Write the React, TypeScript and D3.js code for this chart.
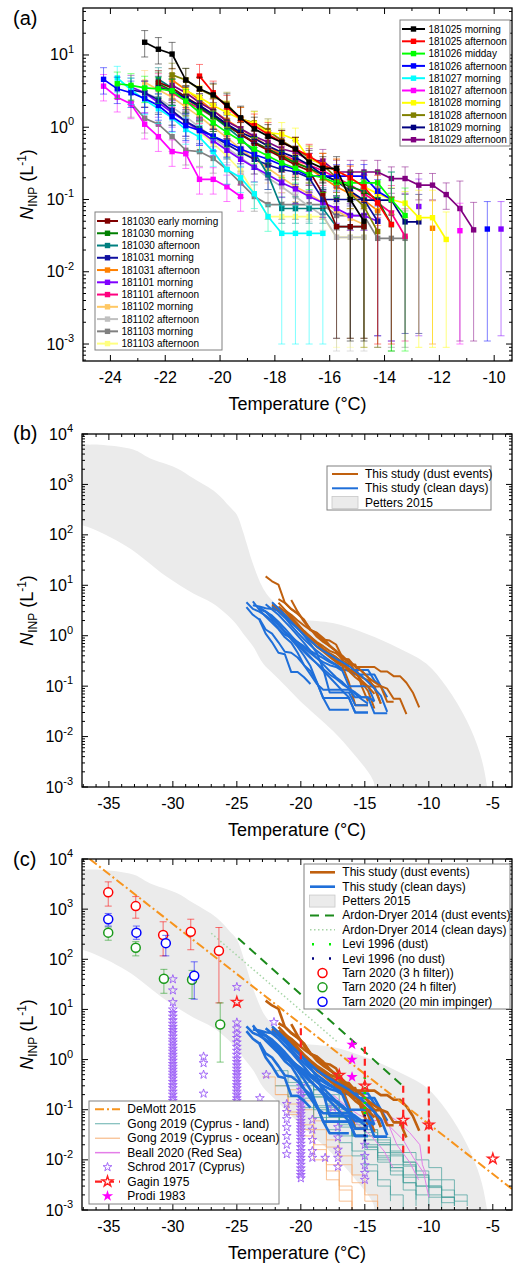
import React from 'react';
import * as d3 from 'd3';

const W = 513;
const H = 1266;
const FONT = 'Arial, "Liberation Sans", Helvetica, sans-serif';
const BROWN = '#c0600e';
const BLUE = '#1f6fd9';

// freezing temperatures of the droplet assay (°C)
const TEMPS = [-24.25, -23.75, -23.25, -22.75, -22.25, -21.75, -21.25, -20.75, -20.25, -19.75,
  -19.25, -18.75, -18.25, -17.75, -17.25, -16.75, -16.25, -15.75, -15.25, -14.75,
  -14.25, -13.75, -13.25, -12.75, -12.25, -11.75, -11.25, -10.75, -10.25, -9.75];

type Run = { name: string; color: string; dust: boolean; start: number; n: (number | null)[]; open: number[]; floor: number };

// N_INP (L-1) per sample, from `start` on the TEMPS grid
const RUNS: Run[] = [
  { name: '181025 morning', color: '#000000', dust: true, start: -22.75, n: [15, 12, 10.3, 4.5, 3.4, 2.8, 2.0, 1.35, 0.95, 0.75, 0.62, 0.5, 0.33, 0.27, 0.27, 0.1, 0.05], open: [-15.25, -14.75], floor: 0.0011 },
  { name: '181025 afternoon', color: '#ff0000', dust: true, start: -20.75, n: [5.1, 3.0, 1.9, 1.3, 1.05, 0.8, 0.62, 0.5, 0.4, 0.3, 0.25, 0.2, 0.15, 0.09, 0.045], open: [-14.25, -13.75], floor: 0.001 },
  { name: '181026 midday', color: '#00ff00', dust: false, start: -23.75, n: [4.0, 3.8, 3.5, 3.4, 3.2, 2.3, 1.6, 1.15, 0.85, 0.65, 0.5, 0.4, 0.32, 0.27, 0.22, 0.2, 0.17, 0.17, 0.17, 0.17, 0.1, 0.06], open: [-13.75, -13.25], floor: 0.0008 },
  { name: '181026 afternoon', color: '#0000ff', dust: false, start: -24.25, n: [4.6, 3.4, 3.0, 2.5, 2.0, 1.4, 1.05, 0.9, 0.75, 0.62, 0.5, 0.42, 0.36, 0.3, 0.26, 0.21, 0.21, 0.21, 0.21, 0.21, 0.13, 0.1, null, null, null, null, null, null, 0.039], open: [-13.75, -10.25], floor: 0.0011 },
  { name: '181027 morning', color: '#00ffff', dust: false, start: -23.75, n: [4.8, 3.3, 2.4, 1.8, 1.35, 0.93, 0.73, 0.46, 0.26, 0.2, 0.12, 0.058, 0.034, 0.034, 0.034, 0.034], open: [-17.75, -17.25, -16.75, -16.25], floor: 0.001 },
  { name: '181027 afternoon', color: '#ff00ff', dust: false, start: -24.25, n: [3.7, 2.6, 2.1, 1.1, 0.74, 0.46, 0.43, 0.19, 0.19, 0.15, 0.11, null, null, null, null, null, null, null, null, null, null, null, null, null, null, null, 0.037], open: [-11.25], floor: 0.001 },
  { name: '181028 morning', color: '#ffff00', dust: true, start: -21.25, n: [3.2, 2.6, 2.0, 1.6, 1.3, 1.13, 0.84, 0.8, 0.67, 0.37, 0.3, 0.25, 0.2, 0.15, 0.12, 0.1, 0.089, 0.056, 0.056, 0.028], open: [-12.75, -12.25, -11.75], floor: 0.0009 },
  { name: '181028 afternoon', color: '#808000', dust: true, start: -21.75, n: [5.3, 4.5, 3.35, 2.7, 2.1, 1.3, 1.15, 0.9, 0.65, 0.5, 0.38, 0.3, 0.2, 0.12, 0.08, 0.036], open: [-14.75, -14.25], floor: 0.0009 },
  { name: '181029 morning', color: '#000080', dust: true, start: -22.25, n: [3.5, 3.2, 2.5, 2.0, 1.5, 1.1, 0.85, 0.7, 0.55, 0.45, 0.38, 0.3, 0.22, 0.18, 0.13, 0.098, 0.098, 0.098, 0.049, 0.049], open: [-13.25, -12.75], floor: 0.0014 },
  { name: '181029 afternoon', color: '#800080', dust: true, start: -21.75, n: [3.8, 3.0, 2.2, 1.7, 1.2, 0.95, 0.75, 0.62, 0.5, 0.45, 0.35, 0.34, 0.24, 0.24, 0.24, 0.24, 0.195, 0.195, 0.158, 0.158, 0.117, 0.075, 0.038], open: [-11.25, -10.75], floor: 0.0011 },
  { name: '181030 early morning', color: '#800000', dust: true, start: -22.25, n: [4.2, 3.5, 2.6, 2.0, 1.5, 1.1, 0.8, 0.6, 0.48, 0.38, 0.3, 0.25, 0.12, 0.042, 0.042, 0.042], open: [-15.75, -15.25, -14.75], floor: 0.0012 },
  { name: '181030 morning', color: '#008000', dust: true, start: -22.25, n: [4.0, 3.2, 2.5, 1.9, 1.4, 1.05, 0.8, 0.62, 0.5, 0.4, 0.32, 0.27, 0.22, 0.18, 0.15, 0.13, 0.1, 0.045], open: [-13.75], floor: 0.0008 },
  { name: '181030 afternoon', color: '#008080', dust: false, start: -22.25, n: [4.6, 3.5, 2.6, 1.9, 1.4, 1.0, 0.7, 0.45, 0.22, 0.075, 0.075, 0.075, 0.075, 0.042, 0.042, 0.042], open: [-15.75, -15.25, -14.75], floor: 0.0012 },
  { name: '181031 morning', color: '#1010a0', dust: false, start: -23.25, n: [3.3, 3.0, 2.4, 1.7, 1.2, 0.95, 0.75, 0.58, 0.45, 0.36, 0.3, 0.26, 0.24, 0.2, 0.1, 0.1, 0.1, 0.1, 0.05], open: [-14.25], floor: 0.0013 },
  { name: '181031 afternoon', color: '#ff8000', dust: true, start: -21.75, n: [4.5, 3.3, 2.4, 1.7, 1.25, 0.95, 0.72, 0.55, 0.42, 0.33, 0.27, 0.2, 0.15, 0.12, 0.098, 0.07, null, null, null, 0.04], open: [-12.25], floor: 0.001 },
  { name: '181101 morning', color: '#8000ff', dust: false, start: -23.25, n: [3.6, 3.0, 2.2, 1.6, 1.2, 0.9, 0.65, 0.48, 0.36, 0.28, 0.22, 0.17, 0.14, 0.11, 0.09, 0.075, 0.06, 0.06, 0.05, null, null, 0.08, null, null, null, null, null, 0.039], open: [-14.25, -12.75, -9.75], floor: 0.0013 },
  { name: '181101 afternoon', color: '#ff0080', dust: false, start: -22.25, n: [3.8, 3.0, 2.3, 1.8, 1.4, 1.05, 0.8, 0.62, 0.5, 0.42, 0.35, 0.3, 0.25, 0.2, 0.16, 0.12, 0.09, 0.065, 0.031], open: [-13.75, -13.25], floor: 0.0011 },
  { name: '181102 morning', color: '#ffc864', dust: false, start: -22.75, n: [4.2, 3.3, 2.6, 1.9, 1.4, 1.0, 0.72, 0.5, 0.36, 0.27, 0.2, 0.15, 0.12, 0.09, 0.07, 0.055, 0.045], open: [-15.25, -14.75], floor: 0.0012 },
  { name: '181102 afternoon', color: '#c0c0c0', dust: false, start: -22.75, n: [3.0, 2.5, 1.9, 1.4, 1.0, 0.72, 0.52, 0.38, 0.28, 0.2, 0.15, 0.11, 0.08, 0.06, 0.03, 0.03, 0.03], open: [-15.75, -15.25, -14.75], floor: 0.0008 },
  { name: '181103 morning', color: '#808080', dust: false, start: -23.25, n: [2.2, 1.33, 1.1, 0.74, 0.48, 0.46, 0.37, 0.26, 0.17, 0.11, 0.085, 0.085, 0.085, 0.085, 0.085, 0.06, 0.06, 0.06, 0.029, 0.029, 0.029], open: [-14.25, -13.75, -13.25], floor: 0.0009 },
  { name: '181103 afternoon', color: '#ffff80', dust: false, start: -23.25, n: [3.6, 3.0, 2.4, 1.7, 1.2, 0.85, 0.6, 0.4, 0.25, 0.12, 0.058, 0.058, 0.058, 0.058, 0.058, 0.03, 0.03, 0.03], open: [-15.75, -15.25, -14.75], floor: 0.0009 },
];

// error bar factors
const ERR_UP = 1.45;
const ERR_DN = 1.6;
const OPEN_UP = 2.4;

// Petters 2015 envelope (T, N)
const PETTERS_UPPER: [number, number][] = [[-38, 6300], [-36.7, 6160], [-35.7, 6100], [-33.1, 4900], [-31.8, 3300], [-29.7, 2100], [-28.4, 1320], [-26.6, 680], [-25.55, 360], [-25.0, 250], [-24.56, 125], [-24.24, 68], [-23.85, 32], [-23.46, 17], [-23.07, 10], [-22.7, 6.9], [-22.03, 4.4], [-21.4, 2.75], [-20.6, 2.2], [-19.8, 2.05], [-17.5, 1.78], [-14.9, 1.1], [-12.3, 0.56], [-10.2, 0.28], [-8.6, 0.095], [-7.05, 0.021], [-6.0, 0.0046], [-5.5, 0.0012], [-5.4, 0.0005]];
const PETTERS_LOWER: [number, number][] = [[-38, 170], [-36.7, 145], [-33.6, 59], [-30.5, 15], [-28.4, 6.9], [-26.9, 4.4], [-25.3, 2.0], [-24.5, 1.1], [-23.7, 0.6], [-22.95, 0.28], [-22.2, 0.18], [-21.1, 0.095], [-20.1, 0.052], [-17.5, 0.013], [-15.9, 0.0046], [-14.35, 0.00135], [-14.0, 0.0005]];

const DEMOTT: [number, number][] = [[-36.5, 10000], [-3.4, 0.0025]];
const ARDON_DUST: [number, number][] = [[-24.9, 263], [-12.1, 0.31]];
const ARDON_CLEAN: [number, number][] = [[-27, 330], [-17.1, 2.2]];
const LEVI_DUST = { t: -15, hi: 0.45, lo: 0.08 };
const LEVI_CLEAN = { t: -15, hi: 0.08, lo: 0.02 };

type Tarn = { t: number; n: number; lo: number; hi: number };
const TARN_3H: Tarn[] = [{ t: -35.05, n: 2160, lo: 1150, hi: 3500 }, { t: -32.9, n: 1150, lo: 660, hi: 1780 }, { t: -30.76, n: 305, lo: 117, hi: 560 }, { t: -28.6, n: 355, lo: 155, hi: 630 }, { t: -26.4, n: 148, lo: 13.5, hi: 430 }];
const TARN_24H: Tarn[] = [{ t: -35.05, n: 340, lo: 240, hi: 440 }, { t: -32.9, n: 170, lo: 117, hi: 225 }, { t: -30.7, n: 41, lo: 21, hi: 63 }, { t: -28.5, n: 39, lo: 16.5, hi: 60 }, { t: -26.3, n: 5.0, lo: 0.89, hi: 13.5 }];
const TARN_IMP: Tarn[] = [{ t: -35.05, n: 630, lo: 460, hi: 820 }, { t: -32.85, n: 340, lo: 250, hi: 460 }, { t: -30.55, n: 210, lo: 117, hi: 300 }, { t: -28.33, n: 47, lo: 16, hi: 89 }];

// Gong 2019 spectra on a 1 °C grid
const GONG_T = [-23, -22, -21, -20, -19, -18, -17, -16, -15, -14, -13, -12, -11, -10, -9, -8, -7];
const GONG_LAND = [
  { start: -22, n: [0.6, 0.35, 0.2, 0.11, 0.06, 0.03, 0.015, 0.008, 0.004, 0.002, 0.001] },
  { start: -21, n: [0.45, 0.3, 0.18, 0.1, 0.055, 0.032, 0.018, 0.01, 0.006, 0.0035, 0.002, 0.0012] },
  { start: -21, n: [0.3, 0.17, 0.1, 0.07, 0.045, 0.03, 0.02, 0.012, 0.008, 0.005, 0.003, 0.0018, 0.0011] },
  { start: -20, n: [0.5, 0.25, 0.12, 0.06, 0.03, 0.016, 0.009, 0.005, 0.0025, 0.0012] },
  { start: -20, n: [0.35, 0.2, 0.13, 0.08, 0.05, 0.03, 0.02, 0.013, 0.008, 0.005, 0.003, 0.0018, 0.0015, 0.0015] },
  { start: -19, n: [0.25, 0.15, 0.09, 0.055, 0.035, 0.022, 0.014, 0.009, 0.006, 0.004, 0.0025, 0.0015] },
  { start: -19, n: [0.18, 0.11, 0.07, 0.04, 0.025, 0.014, 0.007, 0.0035, 0.0016] },
  { start: -18, n: [0.2, 0.1, 0.06, 0.04, 0.028, 0.02, 0.014, 0.01, 0.007, 0.004, 0.002, 0.0012] },
  { start: -22, n: [0.3, 0.18, 0.11, 0.07, 0.04, 0.022, 0.012, 0.006, 0.003, 0.0015] },
  { start: -18, n: [0.12, 0.07, 0.045, 0.03, 0.02, 0.012, 0.0075, 0.0045, 0.0028, 0.0018, 0.0013] },
  { start: -20, n: [0.2, 0.12, 0.08, 0.05, 0.03, 0.018, 0.011, 0.007, 0.0045, 0.003, 0.002, 0.0014, 0.0012] },
  { start: -17, n: [0.09, 0.06, 0.04, 0.025, 0.015, 0.009, 0.005, 0.003, 0.0018, 0.0012] },
];
const GONG_OCEAN = [
  { start: -23, n: [0.45, 0.2, 0.08, 0.03, 0.01, 0.004, 0.0015, 0.0008] },
  { start: -22, n: [0.3, 0.13, 0.05, 0.02, 0.008, 0.003, 0.0012] },
  { start: -21, n: [0.25, 0.1, 0.04, 0.018, 0.008, 0.0035, 0.0015, 0.0008] },
  { start: -20, n: [0.15, 0.06, 0.025, 0.012, 0.005, 0.002, 0.0009] },
  { start: -22, n: [0.2, 0.09, 0.04, 0.016, 0.006, 0.0025, 0.001] },
];
const BEALL: [number, number][][] = [
  [[-19.5, 0.45], [-18.5, 0.25], [-17.5, 0.13], [-16.5, 0.08], [-15.5, 0.05], [-14.5, 0.03], [-13.5, 0.015], [-12.8, 0.007]],
  [[-17.5, 0.2], [-16.5, 0.12], [-15.5, 0.08], [-14.5, 0.06], [-13.3, 0.063], [-12.5, 0.02], [-11.5, 0.009], [-10.8, 0.004]],
  [[-15, 0.1], [-14, 0.07], [-13, 0.045], [-12, 0.025], [-11.2, 0.011], [-10.4, 0.0055], [-10, 0.0018]],
  [[-13.5, 0.09], [-12.5, 0.06], [-11.5, 0.035], [-10.7, 0.02], [-10.5, 0.008], [-10.2, 0.005]],
];

// Schrod 2017 stars, grouped by temperature
const SCHROD = [
  { t: -30, n: [40, 24, 14, 10, 8.5, 7.2, 6.1, 5.2, 4.5, 3.9, 3.4, 2.9, 2.5, 2.2, 1.9, 1.65, 1.45, 1.25, 1.1, 0.95, 0.82, 0.72, 0.63, 0.55, 0.48, 0.42, 0.36, 0.31, 0.27, 0.23, 0.2, 0.17, 0.15] },
  { t: -27.6, n: [1.15, 0.85, 0.5, 0.21] },
  { t: -25, n: [28, 5.5, 4.2, 3.3, 2.7, 2.2, 1.8, 1.5, 1.25, 1.05, 0.9, 0.77, 0.66, 0.57, 0.49, 0.42, 0.36, 0.31, 0.27, 0.23, 0.2, 0.17, 0.15] },
  { t: -23.2, n: [0.17] },
  { t: -22.7, n: [0.5] },
  { t: -22.1, n: [5.6] },
  { t: -21.1, n: [0.13, 0.09, 0.065, 0.045, 0.03, 0.02, 0.013] },
  { t: -20, n: [0.3, 0.25, 0.21, 0.18, 0.15, 0.13, 0.11, 0.095, 0.082, 0.07, 0.06, 0.052, 0.045, 0.039, 0.034, 0.029, 0.025, 0.021, 0.018, 0.015, 0.013, 0.011, 0.0095, 0.008, 0.0068, 0.0058, 0.005, 0.0043] },
  { t: -19.1, n: [0.063, 0.04, 0.025, 0.015, 0.011] },
  { t: -18.1, n: [0.011] },
  { t: -17.5, n: [0.11] },
  { t: -17.1, n: [0.045, 0.028, 0.016, 0.011, 0.0073] },
  { t: -15, n: [0.02, 0.012, 0.0078, 0.0055, 0.004] },
];

const GAGIN_STARS: [number, number][] = [[-25, 14], [-17, 0.49], [-15, 0.3], [-12, 0.062], [-10, 0.05], [-5, 0.0105]];
const GAGIN_RANGES = [{ t: -20, hi: 4.2, lo: 0.9 }, { t: -15, hi: 1.8, lo: 0.3 }, { t: -12, hi: 0.3, lo: 0.011 }, { t: -10, hi: 0.29, lo: 0.011 }];
const PRODI: [number, number][] = [[-16, 2.0], [-16, 1.0], [-16, 0.45]];

type Pt = { t: number; v: number | null };
const runPoints = (r: Run): Pt[] => r.n.map((v, i) => ({ t: TEMPS[TEMPS.indexOf(r.start) + i], v }));
const gongPoints = (g: { start: number; n: number[] }): [number, number][] =>
  g.n.map((v, i) => [GONG_T[GONG_T.indexOf(g.start) + i], v]);

const xa = d3.scaleLinear().domain([-25, -9.35]).range([83, 512]);
const ya = d3.scaleLog().domain([10 ** -3.235, 10 ** 1.65]).range([361, 8]);
const xb = d3.scaleLinear().domain([-37.1, -3.5]).range([82, 512]);
const yb = d3.scaleLog().domain([1e-3, 1e4]).range([787, 434]);
const yc = d3.scaleLog().domain([1e-3, 1e4]).range([1210, 859]);

const star = (size: number) => d3.symbol().type(d3.symbolStar).size(size)() as string;

function YTitle({ cx, cy }: { cx: number; cy: number }) {
  return (
    <text transform={`translate(${cx},${cy}) rotate(-90)`} textAnchor="middle" fontSize={18}>
      <tspan fontStyle="italic">N</tspan>
      <tspan fontSize={12} dy={4}>INP</tspan>
      <tspan dy={-4}> (L</tspan>
      <tspan fontSize={12} dy={-7}>-1</tspan>
      <tspan dy={7}>)</tspan>
    </text>
  );
}

function Axes({ x, y, major, minor, exps }: { x: any; y: any; major: number[]; minor: number[]; exps: number[] }) {
  const [x0, x1] = x.range();
  const [yB, yT] = y.range();
  const [dlo, dhi] = y.domain();
  const segs: number[][] = [];
  major.forEach((t) => { const p = x(t); segs.push([p, yB, p, yB - 6], [p, yT, p, yT + 6]); });
  minor.forEach((t) => { const p = x(t); segs.push([p, yB, p, yB - 3], [p, yT, p, yT + 3]); });
  exps.forEach((e) => { const p = y(10 ** e); segs.push([x0, p, x0 + 6, p], [x1, p, x1 - 6, p]); });
  for (let e = Math.floor(Math.log10(dlo)); e < Math.ceil(Math.log10(dhi)); e++) {
    for (let m = 2; m < 10; m++) {
      const v = m * 10 ** e;
      if (v > dlo && v < dhi) { const p = y(v); segs.push([x0, p, x0 + 3, p], [x1, p, x1 - 3, p]); }
    }
  }
  return (
    <g>
      <g stroke="#000" strokeWidth={1}>
        {segs.map((s, i) => <line key={i} x1={s[0]} y1={s[1]} x2={s[2]} y2={s[3]} />)}
      </g>
      <rect x={x0} y={yT} width={x1 - x0} height={yB - yT} fill="none" stroke="#000" strokeWidth={1.3} />
      <g fontSize={16} textAnchor="middle">
        {major.map((t) => <text key={t} x={x(t)} y={yB + 22}>{t}</text>)}
      </g>
      <g fontSize={16} textAnchor="end">
        {exps.map((e) => (
          <text key={e} x={x0 - 9} y={y(10 ** e) + 5.5}>10<tspan fontSize={11} dy={-7.5}>{e}</tspan></text>
        ))}
      </g>
      <text x={(x0 + x1) / 2} y={yB + 48.5} fontSize={18} textAnchor="middle">Temperature (°C)</text>
      <YTitle cx={33} cy={(yB + yT) / 2} />
    </g>
  );
}

function RunLegend({ runs, x0, y0, w, h, row, lineX }: { runs: Run[]; x0: number; y0: number; w: number; h: number; row: number; lineX: number[] }) {
  return (
    <g>
      <rect x={x0} y={y0} width={w} height={h} fill="#fff" stroke="#808080" strokeWidth={1} />
      {runs.map((r, i) => {
        const cy = y0 + 9 + i * row;
        const mx = (lineX[0] + lineX[1]) / 2;
        return (
          <g key={r.name}>
            <line x1={lineX[0]} x2={lineX[1]} y1={cy} y2={cy} stroke={r.color} strokeWidth={2} />
            <rect x={mx - 2.7} y={cy - 2.7} width={5.4} height={5.4} fill={r.color} />
            <text x={lineX[1] + 3.5} y={cy + 3.6} fontSize={10}>{r.name}</text>
          </g>
        );
      })}
    </g>
  );
}

function PanelA() {
  const line = d3.line<Pt>().defined((p) => p.v != null).x((p) => xa(p.t)).y((p) => ya(p.v as number));
  const order = RUNS.slice().reverse();
  return (
    <g>
      <text x={13} y={25} fontSize={20}>(a)</text>
      <g clipPath="url(#clipA)">
        {order.map((r) => {
          const pts = runPoints(r).filter((p) => p.v != null);
          return (
            <g key={r.name}>
              <g stroke={r.color} strokeOpacity={0.5} strokeWidth={1}>
                {pts.map((p) => {
                  const v = p.v as number;
                  const open = r.open.includes(p.t);
                  const hi = ya(v * (open ? OPEN_UP : ERR_UP));
                  const lo = ya(open ? r.floor : v / ERR_DN);
                  const px = xa(p.t);
                  return (
                    <g key={p.t}>
                      <line x1={px} x2={px} y1={lo} y2={hi} />
                      <line x1={px - 3.5} x2={px + 3.5} y1={lo} y2={lo} />
                      <line x1={px - 3.5} x2={px + 3.5} y1={hi} y2={hi} />
                    </g>
                  );
                })}
              </g>
              <path d={line(runPoints(r)) || ''} fill="none" stroke={r.color} strokeWidth={1.7} />
              {pts.map((p) => (
                <rect key={p.t} x={xa(p.t) - 2.7} y={ya(p.v as number) - 2.7} width={5.4} height={5.4} fill={r.color} />
              ))}
            </g>
          );
        })}
      </g>
      <Axes x={xa} y={ya} major={[-24, -22, -20, -18, -16, -14, -12, -10]} minor={[-23, -21, -19, -17, -15, -13, -11]} exps={[-3, -2, -1, 0, 1]} />
      <RunLegend runs={RUNS.slice(0, 10)} x0={400} y0={20} w={110} h={126} row={12.3} lineX={[402, 425]} />
      <RunLegend runs={RUNS.slice(10)} x0={95} y0={212} w={127} h={138} row={12.26} lineX={[97, 118]} />
    </g>
  );
}

function bandPath(x: any, y: any) {
  const pts = [...PETTERS_UPPER, ...PETTERS_LOWER.slice().reverse()];
  const l = d3.line<[number, number]>().x((d) => x(d[0])).y((d) => y(d[1])).curve(d3.curveCatmullRom.alpha(0.5));
  return (l(pts) || '') + 'Z';
}

function StudyLines({ y, width }: { y: any; width: number }) {
  const line = d3.line<Pt>().defined((p) => p.v != null).x((p) => xb(p.t)).y((p) => y(p.v as number));
  return (
    <g fill="none" strokeLinejoin="round">
      {RUNS.map((r) => (
        <path key={r.name} d={line(runPoints(r)) || ''} stroke={r.dust ? BROWN : BLUE} strokeWidth={width} />
      ))}
    </g>
  );
}

const B_MAJOR = [-35, -30, -25, -20, -15, -10, -5];
const B_MINOR = d3.range(-37, -3).filter((t) => t % 5 !== 0);
const B_EXPS = [-3, -2, -1, 0, 1, 2, 3, 4];

function PanelB() {
  return (
    <g>
      <text x={13} y={440} fontSize={20}>(b)</text>
      <g clipPath="url(#clipB)">
        <path d={bandPath(xb, yb)} fill="#ebebeb" />
        <StudyLines y={yb} width={2} />
      </g>
      <Axes x={xb} y={yb} major={B_MAJOR} minor={B_MINOR} exps={B_EXPS} />
      <g>
        <rect x={327} y={466} width={164} height={44} fill="#fff" stroke="#808080" />
        <line x1={332} x2={358} y1={474} y2={474} stroke={BROWN} strokeWidth={2} />
        <text x={365} y={478} fontSize={12}>This study (dust events)</text>
        <line x1={332} x2={358} y1={488.3} y2={488.3} stroke={BLUE} strokeWidth={2} />
        <text x={365} y={492.3} fontSize={12}>This study (clean days)</text>
        <rect x={332} y={496.5} width={26} height={12} fill="#ebebeb" stroke="#c8c8c8" strokeWidth={0.8} />
        <text x={365} y={506.5} fontSize={12}>Petters 2015</text>
      </g>
    </g>
  );
}

function TarnMarks({ data, color }: { data: Tarn[]; color: string }) {
  return (
    <g>
      <g stroke={color} strokeOpacity={0.55} strokeWidth={1}>
        {data.map((d) => {
          const px = xb(d.t);
          return (
            <g key={d.t}>
              <line x1={px} x2={px} y1={yc(d.lo)} y2={yc(d.hi)} />
              <line x1={px - 3.5} x2={px + 3.5} y1={yc(d.lo)} y2={yc(d.lo)} />
              <line x1={px - 3.5} x2={px + 3.5} y1={yc(d.hi)} y2={yc(d.hi)} />
            </g>
          );
        })}
      </g>
      {data.map((d) => <circle key={d.t} cx={xb(d.t)} cy={yc(d.n)} r={4.5} fill="#fff" stroke={color} strokeWidth={1.5} />)}
    </g>
  );
}

function PanelC() {
  const pair = d3.line<[number, number]>().x((d) => xb(d[0])).y((d) => yc(d[1]));
  const step = d3.line<[number, number]>().x((d) => xb(d[0])).y((d) => yc(d[1])).curve(d3.curveStepAfter);
  const schrodStar = star(24);
  const gaginStar = star(34);
  const prodiStar = star(40);
  const topRows = d3.range(10).map((i) => 872.3 + i * 14.38);
  const botRows = d3.range(7).map((i) => 1109.3 + i * 14.45);
  return (
    <g>
      <text x={13} y={866} fontSize={20}>(c)</text>
      <g clipPath="url(#clipC)">
        <path d={bandPath(xb, yc)} fill="#ebebeb" />
        <g fill="none" strokeWidth={0.9}>
          {GONG_OCEAN.map((g, i) => <path key={'o' + i} d={step(gongPoints(g)) || ''} stroke="#f6ad72" strokeOpacity={0.85} />)}
          {GONG_LAND.map((g, i) => <path key={'l' + i} d={step(gongPoints(g)) || ''} stroke="#3f9c98" strokeOpacity={0.75} />)}
          {BEALL.map((b, i) => <path key={'b' + i} d={pair(b) || ''} stroke="#e47ee8" strokeWidth={1} />)}
        </g>
        <g fill="none" stroke="#9b5cf6" strokeWidth={0.9}>
          {SCHROD.flatMap((s) => s.n.map((v, j) => (
            <path key={s.t + '_' + j} d={schrodStar} transform={`translate(${xb(s.t)},${yc(v)})`} />
          )))}
        </g>
        <StudyLines y={yc} width={2.6} />
        <path d={pair(ARDON_CLEAN) || ''} fill="none" stroke="#a6d4a6" strokeWidth={1.5} strokeDasharray="1.5 2.5" />
        <path d={pair(ARDON_DUST) || ''} fill="none" stroke="#1b8a1b" strokeWidth={2} strokeDasharray="9 6" />
        <path d={pair(DEMOTT) || ''} fill="none" stroke="#f7941d" strokeWidth={2} strokeDasharray="9 3 2 3" />
        <line x1={xb(LEVI_DUST.t)} x2={xb(LEVI_DUST.t)} y1={yc(LEVI_DUST.hi)} y2={yc(LEVI_DUST.lo)} stroke="#00ee00" strokeWidth={2.5} strokeDasharray="2 3" />
        <line x1={xb(LEVI_CLEAN.t)} x2={xb(LEVI_CLEAN.t)} y1={yc(LEVI_CLEAN.hi)} y2={yc(LEVI_CLEAN.lo)} stroke="#000080" strokeWidth={2.5} strokeDasharray="2 3" />
        <g stroke="#ff2020" strokeWidth={2.2} strokeDasharray="7 5">
          {GAGIN_RANGES.map((g) => <line key={g.t} x1={xb(g.t)} x2={xb(g.t)} y1={yc(g.hi)} y2={yc(g.lo)} />)}
        </g>
        <g fill="none" stroke="#ff2020" strokeWidth={1.4}>
          {GAGIN_STARS.map((g) => <path key={g[0]} d={gaginStar} transform={`translate(${xb(g[0])},${yc(g[1])})`} />)}
        </g>
        <g fill="#ff00ff">
          {PRODI.map((p, i) => <path key={i} d={prodiStar} transform={`translate(${xb(p[0])},${yc(p[1])})`} />)}
        </g>
        <TarnMarks data={TARN_3H} color="#ff0000" />
        <TarnMarks data={TARN_24H} color="#1a9a1a" />
        <TarnMarks data={TARN_IMP} color="#0000ff" />
      </g>
      <Axes x={xb} y={yc} major={B_MAJOR} minor={B_MINOR} exps={B_EXPS} />
      <g fontSize={12}>
        <rect x={304} y={864} width={206} height={145} fill="#fff" stroke="#808080" />
        <line x1={310} x2={335} y1={topRows[0]} y2={topRows[0]} stroke={BROWN} strokeWidth={2.6} />
        <text x={342.3} y={topRows[0] + 4}>This study (dust events)</text>
        <line x1={310} x2={335} y1={topRows[1]} y2={topRows[1]} stroke={BLUE} strokeWidth={2.6} />
        <text x={342.3} y={topRows[1] + 4}>This study (clean days)</text>
        <rect x={309.5} y={topRows[2] - 6} width={25.5} height={12} fill="#ebebeb" stroke="#c8c8c8" strokeWidth={0.8} />
        <text x={342.3} y={topRows[2] + 4}>Petters 2015</text>
        <line x1={310} x2={335} y1={topRows[3]} y2={topRows[3]} stroke="#1b8a1b" strokeWidth={2} strokeDasharray="9 6" />
        <text x={342.3} y={topRows[3] + 4}>Ardon-Dryer 2014 (dust events)</text>
        <line x1={310} x2={335} y1={topRows[4]} y2={topRows[4]} stroke="#a6d4a6" strokeWidth={1.5} strokeDasharray="1.5 2.5" />
        <text x={342.3} y={topRows[4] + 4}>Ardon-Dryer 2014 (clean days)</text>
        <line x1={312} x2={332} y1={topRows[5]} y2={topRows[5]} stroke="#00ee00" strokeWidth={2.5} strokeDasharray="2 15" />
        <text x={342.3} y={topRows[5] + 4}>Levi 1996 (dust)</text>
        <line x1={312} x2={332} y1={topRows[6]} y2={topRows[6]} stroke="#000080" strokeWidth={2.5} strokeDasharray="2 15" />
        <text x={342.3} y={topRows[6] + 4}>Levi 1996 (no dust)</text>
        <circle cx={322.5} cy={topRows[7]} r={4.5} fill="#fff" stroke="#ff0000" strokeWidth={1.5} />
        <text x={342.3} y={topRows[7] + 4}>Tarn 2020 (3 h filter))</text>
        <circle cx={322.5} cy={topRows[8]} r={4.5} fill="#fff" stroke="#1a9a1a" strokeWidth={1.5} />
        <text x={342.3} y={topRows[8] + 4}>Tarn 2020 (24 h filter)</text>
        <circle cx={322.5} cy={topRows[9]} r={4.5} fill="#fff" stroke="#0000ff" strokeWidth={1.5} />
        <text x={342.3} y={topRows[9] + 4}>Tarn 2020 (20 min impinger)</text>
      </g>
      <g fontSize={12}>
        <rect x={89} y={1101} width={190} height={103} fill="#fff" stroke="#808080" />
        <line x1={95} x2={120} y1={botRows[0]} y2={botRows[0]} stroke="#f7941d" strokeWidth={2} strokeDasharray="9 3 2 3" />
        <text x={127.3} y={botRows[0] + 4}>DeMott 2015</text>
        <line x1={95} x2={120} y1={botRows[1]} y2={botRows[1]} stroke="#3f9c98" strokeWidth={1} strokeOpacity={0.8} />
        <text x={127.3} y={botRows[1] + 4}>Gong 2019 (Cyprus - land)</text>
        <line x1={95} x2={120} y1={botRows[2]} y2={botRows[2]} stroke="#f6ad72" strokeWidth={1} />
        <text x={127.3} y={botRows[2] + 4}>Gong 2019 (Cyprus - ocean)</text>
        <line x1={95} x2={120} y1={botRows[3]} y2={botRows[3]} stroke="#e47ee8" strokeWidth={1.5} />
        <text x={127.3} y={botRows[3] + 4}>Beall 2020 (Red Sea)</text>
        <path d={schrodStar} transform={`translate(107.5,${botRows[4]})`} fill="none" stroke="#9b5cf6" strokeWidth={0.9} />
        <text x={127.3} y={botRows[4] + 4}>Schrod 2017 (Cyprus)</text>
        <line x1={95} x2={120} y1={botRows[5]} y2={botRows[5]} stroke="#ff2020" strokeWidth={2.2} strokeDasharray="7 5" />
        <path d={gaginStar} transform={`translate(107.5,${botRows[5]})`} fill="#fff" stroke="#ff2020" strokeWidth={1.4} />
        <text x={127.3} y={botRows[5] + 4}>Gagin 1975</text>
        <path d={prodiStar} transform={`translate(107.5,${botRows[6]})`} fill="#ff00ff" />
        <text x={127.3} y={botRows[6] + 4}>Prodi 1983</text>
      </g>
    </g>
  );
}

export default function App() {
  return (
    <svg width={W} height={H} viewBox={`0 0 ${W} ${H}`} fontFamily={FONT}
      style={{ position: 'absolute', left: 0, top: 0, background: '#fff' }}>
      <defs>
        <clipPath id="clipA"><rect x={83} y={8} width={429} height={353} /></clipPath>
        <clipPath id="clipB"><rect x={82} y={434} width={430} height={353} /></clipPath>
        <clipPath id="clipC"><rect x={82} y={859} width={430} height={351} /></clipPath>
      </defs>
      <rect width={W} height={H} fill="#fff" />
      <PanelA />
      <PanelB />
      <PanelC />
    </svg>
  );
}
